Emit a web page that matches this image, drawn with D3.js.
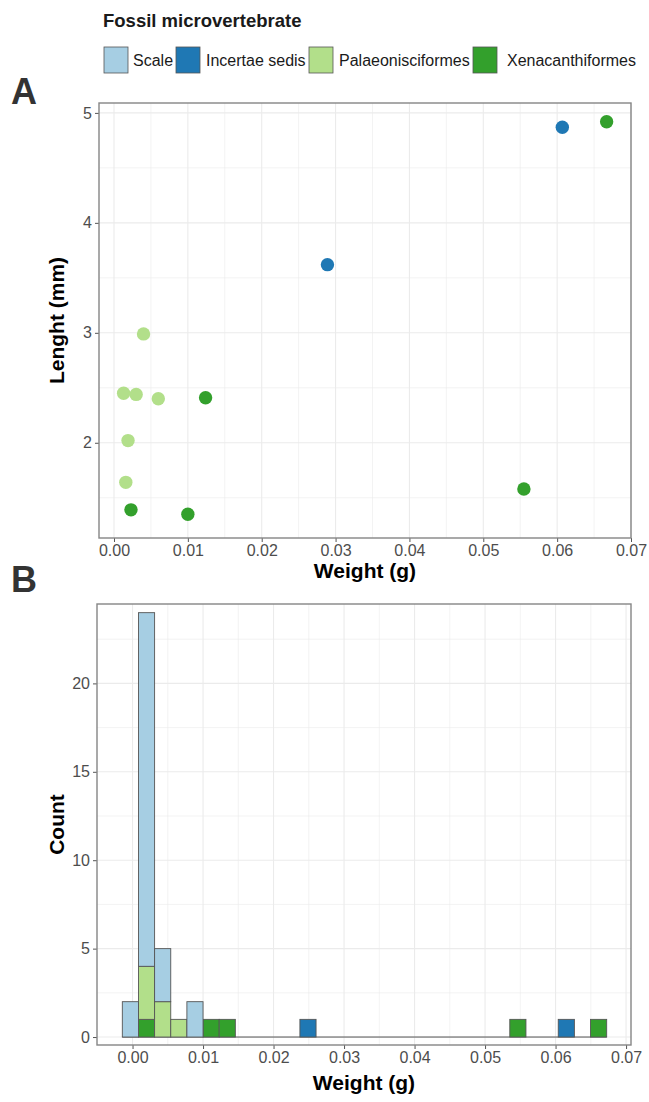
<!DOCTYPE html>
<html><head><meta charset="utf-8">
<script src="https://cdn.jsdelivr.net/npm/d3@7"></script>
<style>body{margin:0;background:#fff}svg{display:block;font-family:"Liberation Sans",Arial,sans-serif}</style>
</head><body><svg id="c" width="649" height="1102"></svg>
<script>
// ---- data ----
const categories = ["Scale","Incertae sedis","Palaeonisciformes","Xenacanthiformes"];
const colors = ["#a6cee3","#1f78b4","#b2df8a","#33a02c"];
// scatter (panel A)
const weightIncertae = [0.0289, 0.0607];
const lengthIncertae = [3.62, 4.87];
const weightPalaeo = [0.0040, 0.0013, 0.0030, 0.0060, 0.0019, 0.0016];
const lengthPalaeo = [2.99, 2.45, 2.44, 2.40, 2.02, 1.64];
const weightXena = [0.0124, 0.0023, 0.0100, 0.0555, 0.0667];
const lengthXena = [2.41, 1.39, 1.35, 1.58, 4.92];
// histogram (panel B): 30 bins
const binStart0 = -0.00145, binWidth = 0.00229, nBins = 30;
const countScale     = [2,20,3,0,2,0,0,0,0,0,0,0,0,0,0,0,0,0,0,0,0,0,0,0,0,0,0,0,0,0];
const countIncertae  = [0,0,0,0,0,0,0,0,0,0,0,1,0,0,0,0,0,0,0,0,0,0,0,0,0,0,0,1,0,0];
const countPalaeo    = [0,3,2,1,0,0,0,0,0,0,0,0,0,0,0,0,0,0,0,0,0,0,0,0,0,0,0,0,0,0];
const countXena      = [0,1,0,0,0,1,1,0,0,0,0,0,0,0,0,0,0,0,0,0,0,0,0,0,1,0,0,0,0,1];
const xTicks = [0,0.01,0.02,0.03,0.04,0.05,0.06,0.07];
const yTicksA = [2,3,4,5];
const yTicksB = [0,5,10,15,20];

// ---- drawing ----
const svg = d3.select("#c");
const gridC = "#ebebeb", borderC = "#858585", tickTxt = "#4d4d4d";

function frame(x, y, xt, yt, xminor, yminor, L, R, T, B) {
  const g = svg.append("g");
  g.append("rect").attr("x",L).attr("y",T).attr("width",R-L).attr("height",B-T).attr("fill","#fff");
  g.selectAll(".gx2").data(xminor).join("line").attr("x1",d=>x(d)).attr("x2",d=>x(d)).attr("y1",T).attr("y2",B).attr("stroke",gridC).attr("stroke-width",0.6);
  g.selectAll(".gy2").data(yminor).join("line").attr("y1",d=>y(d)).attr("y2",d=>y(d)).attr("x1",L).attr("x2",R).attr("stroke",gridC).attr("stroke-width",0.6);
  g.selectAll(".gx").data(xt).join("line").attr("x1",d=>x(d)).attr("x2",d=>x(d)).attr("y1",T).attr("y2",B).attr("stroke",gridC).attr("stroke-width",1.1);
  g.selectAll(".gy").data(yt).join("line").attr("y1",d=>y(d)).attr("y2",d=>y(d)).attr("x1",L).attr("x2",R).attr("stroke",gridC).attr("stroke-width",1.1);
  return g;
}
function axes(x, y, xt, yt, L, R, T, B, xfmt, yfmt) {
  const gx = svg.append("g").attr("transform",`translate(0,${B})`)
    .call(d3.axisBottom(x).tickValues(xt).tickFormat(xfmt).tickSize(4).tickPadding(3));
  const gy = svg.append("g").attr("transform",`translate(${L},0)`)
    .call(d3.axisLeft(y).tickValues(yt).tickFormat(yfmt).tickSize(4).tickPadding(3));
  [gx,gy].forEach(a=>{a.select(".domain").remove();
    a.selectAll(".tick line").attr("stroke","#555");
    a.selectAll(".tick text").attr("fill",tickTxt).style("font-size","16px").style("font-family","Liberation Sans, Arial, sans-serif");});
  svg.append("rect").attr("x",L).attr("y",T).attr("width",R-L).attr("height",B-T).attr("fill","none").attr("stroke",borderC).attr("stroke-width",1.4);
}

// Panel A
{
  const L=99,R=631,T=103,B=538;
  const x = d3.scaleLinear().domain([-0.00203,0.0700]).range([L,R]);
  const y = d3.scaleLinear().domain([1.134,5.09]).range([B,T]);
  frame(x,y,xTicks,yTicksA,[0.005,0.015,0.025,0.035,0.045,0.055,0.065],[1.5,2.5,3.5,4.5],L,R,T,B);
  const pts = [];
  weightIncertae.forEach((w,i)=>pts.push({w,l:lengthIncertae[i],c:1}));
  weightPalaeo.forEach((w,i)=>pts.push({w,l:lengthPalaeo[i],c:2}));
  weightXena.forEach((w,i)=>pts.push({w,l:lengthXena[i],c:3}));
  svg.append("g").selectAll("circle").data(pts).join("circle")
    .attr("cx",d=>x(d.w)).attr("cy",d=>y(d.l)).attr("r",6.7).attr("fill",d=>colors[d.c]);
  axes(x,y,xTicks,yTicksA,L,R,T,B,d3.format(".2f"),d3.format("d"));
  svg.append("text").attr("x",(L+R)/2).attr("y",578).attr("text-anchor","middle")
    .style("font-size","21px").style("font-weight","bold").text("Weight (g)");
  svg.append("text").attr("transform",`translate(64,${(T+B)/2}) rotate(-90)`).attr("text-anchor","middle")
    .style("font-size","21px").style("font-weight","bold").text("Lenght (mm)");
  svg.append("text").attr("x",11).attr("y",104).style("font-size","36px").style("font-weight","bold").attr("fill","#333").text("A");
}

// Panel B
{
  const L=97,R=631,T=604,B=1045;
  const x = d3.scaleLinear().domain([-0.00504,0.0707]).range([L,R]);
  const y = d3.scaleLinear().domain([-0.45,24.49]).range([B,T]);
  frame(x,y,xTicks,yTicksB,[0.005,0.015,0.025,0.035,0.045,0.055,0.065],[2.5,7.5,12.5,17.5,22.5],L,R,T,B);
  const bins = d3.range(nBins).map(i=>({i, x0: binStart0+i*binWidth, x1: binStart0+(i+1)*binWidth,
    Xenacanthiformes: countXena[i], Palaeonisciformes: countPalaeo[i], "Incertae sedis": countIncertae[i], Scale: countScale[i]}));
  const stackKeys = ["Xenacanthiformes","Palaeonisciformes","Incertae sedis","Scale"];
  const stacked = d3.stack().keys(stackKeys)(bins);
  svg.append("line").attr("x1",x(bins[0].x0)).attr("x2",x(bins[nBins-1].x1)).attr("y1",y(0)).attr("y2",y(0))
    .attr("stroke","#555").attr("stroke-width",1);
  stacked.forEach(layer=>{
    const ci = categories.indexOf(layer.key);
    svg.append("g").selectAll("rect").data(layer.filter(d=>d[1]-d[0]>0)).join("rect")
      .attr("x",d=>x(d.data.x0)).attr("width",d=>x(d.data.x1)-x(d.data.x0))
      .attr("y",d=>y(d[1])).attr("height",d=>y(d[0])-y(d[1]))
      .attr("fill",colors[ci]).attr("stroke","#555").attr("stroke-width",0.9);
  });
  axes(x,y,xTicks,yTicksB,L,R,T,B,d3.format(".2f"),d3.format("d"));
  svg.append("text").attr("x",(L+R)/2).attr("y",1090).attr("text-anchor","middle")
    .style("font-size","21px").style("font-weight","bold").text("Weight (g)");
  svg.append("text").attr("transform",`translate(64,${(T+B)/2}) rotate(-90)`).attr("text-anchor","middle")
    .style("font-size","21px").style("font-weight","bold").text("Count");
  svg.append("text").attr("x",11).attr("y",592).style("font-size","36px").style("font-weight","bold").attr("fill","#333").text("B");
}

// Legend
{
  svg.append("text").attr("x",103).attr("y",27).style("font-size","18.5px").style("font-weight","bold").attr("fill","#1a1a1a").text("Fossil microvertebrate");
  const keyX = [104,176,309,473], txtX = [133,206,339,507];
  categories.forEach((c,i)=>{
    svg.append("rect").attr("x",keyX[i]).attr("y",47).attr("width",24).attr("height",26)
      .attr("fill",colors[i]).attr("stroke","#555").attr("stroke-width",0.8);
    svg.append("text").attr("x",txtX[i]).attr("y",66).style("font-size","16px").attr("fill","#1a1a1a").text(c);
  });
}
</script></body></html>
